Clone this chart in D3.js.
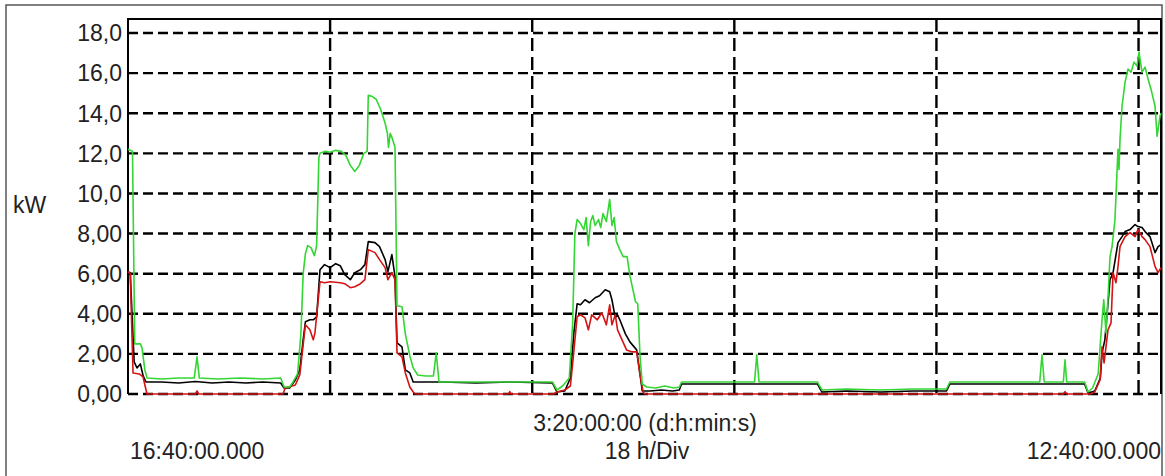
<!DOCTYPE html>
<html lang="en">
  <head>
    <title>kW trace</title>
    <script src="https://d3js.org/d3.v7.min.js"></script>
    <style>
      body {
        margin: 0;
        background: #fff;
        font-family: "Liberation Sans", Arial, sans-serif;
      }
      text {
        fill: #222;
        font-size: 23px;
      }
      .grid {
        stroke: #000;
        stroke-width: 2.4px;
      }
      .trace {
        fill: none;
        stroke-width: 1.6px;
        stroke-linejoin: round;
      }
    </style>
  </head>
  <body>
    <div id="chart"></div>
    <script>
      // time in hours from start, power in kW
      const yTicks = [0, 2, 4, 6, 8, 10, 12, 14, 16, 18];
      const yTickLabels = ["0,00", "2,00", "4,00", "6,00", "8,00", "10,0", "12,0", "14,0", "16,0", "18,0"];
      const xDivs = [18, 36, 54, 72, 90];
      const startLabel = "16:40:00.000";
      const endLabel = "12:40:00.000";
      const spanLabel = "3:20:00:00 (d:h:min:s)";
      const divLabel = "18 h/Div";
      const unitLabel = "kW";

      const greenSeries = [
        [0, 12.2], [0.4, 12.1], [0.6, 2.5], [1.1, 2.5], [1.25, 2.3], [1.5, 1.2], [1.7, 0.8],
        [3, 0.75], [4.5, 0.8], [5.9, 0.8], [6.15, 1.85], [6.35, 0.8], [8, 0.75], [10, 0.8],
        [12, 0.75], [13.6, 0.8], [13.9, 0.35], [14.4, 0.35], [14.7, 0.6], [15.1, 1.0],
        [15.4, 3.0], [15.6, 6.0], [15.8, 7.0], [16.0, 7.4], [16.3, 7.3], [16.6, 6.9],
        [16.8, 7.4], [17.0, 11.8], [17.1, 12.0], [17.6, 12.1], [18.0, 12.05], [18.5, 12.15],
        [19.0, 12.1], [19.4, 11.9], [19.8, 11.4], [20.2, 11.1], [20.6, 11.4], [21.0, 12.0],
        [21.3, 12.1], [21.4, 14.9], [21.7, 14.85], [22.1, 14.7], [22.5, 14.2], [22.9, 13.5],
        [23.1, 13.0], [23.2, 12.3], [23.35, 13.0], [23.5, 12.8], [23.78, 12.3], [23.96, 4.4],
        [24.4, 4.35], [24.7, 3.0], [25.1, 1.9], [25.4, 1.3], [25.8, 0.95], [26.5, 0.9],
        [27.2, 0.9], [27.45, 2.05], [27.7, 0.6], [28, 0.6], [32, 0.6], [36, 0.6], [37.8, 0.6],
        [38.2, 0.2], [38.7, 0.4], [39.3, 0.8], [39.6, 3.5], [39.8, 8.0], [40.0, 8.7],
        [40.3, 8.5], [40.6, 8.2], [40.8, 8.8], [41.0, 7.4], [41.2, 8.6], [41.4, 8.9],
        [41.6, 8.4], [41.9, 8.7], [42.1, 8.3], [42.3, 9.0], [42.6, 8.6], [42.9, 9.7],
        [43.1, 8.4], [43.3, 8.8], [43.5, 7.6], [43.8, 7.2], [44.1, 6.85], [44.45, 6.85],
        [44.7, 5.9], [45.2, 4.6], [45.4, 4.5], [45.6, 1.9], [45.8, 0.5], [46.2, 0.35],
        [47, 0.3], [47.8, 0.4], [48.6, 0.3], [49.1, 0.35], [49.3, 0.6], [52, 0.6], [55.8, 0.6],
        [56.0, 1.95], [56.2, 0.6], [59, 0.6], [61.4, 0.6], [61.8, 0.2], [64, 0.25], [67, 0.2],
        [70, 0.25], [72.9, 0.25], [73.2, 0.6], [77, 0.6], [81.2, 0.6], [81.4, 1.95],
        [81.6, 0.6], [83.3, 0.6], [83.45, 1.7], [83.6, 0.6], [85.2, 0.6], [85.5, 0.1],
        [85.9, 0.3], [86.4, 1.0], [86.75, 3.7], [86.9, 4.7], [87.1, 3.05], [87.3, 5.0],
        [87.46, 6.85], [87.64, 7.35], [87.9, 8.7], [88.08, 11.05], [88.17, 12.2],
        [88.26, 11.2], [88.35, 12.7], [88.53, 14.35], [88.8, 15.55], [89.06, 16.2],
        [89.33, 16.05], [89.6, 16.55], [89.86, 16.35], [90.04, 17.05], [90.31, 16.05],
        [90.58, 16.3], [90.85, 15.7], [91.11, 15.2], [91.47, 14.35], [91.65, 12.85],
        [91.91, 13.85], [92, 14.0]
      ];

      const blackSeries = [
        [0, 6.1], [0.2, 6.05], [0.55, 1.6], [0.8, 1.3], [1.1, 1.5], [1.35, 0.9], [1.6, 0.6],
        [3, 0.6], [4.5, 0.55], [6, 0.62], [7.5, 0.55], [9, 0.6], [10.5, 0.55], [12, 0.6],
        [13.6, 0.55], [13.9, 0.3], [14.4, 0.3], [14.9, 0.7], [15.3, 1.2], [15.6, 2.7],
        [15.8, 3.6], [16.2, 3.7], [16.5, 3.7], [16.8, 3.85], [17.1, 6.2], [17.5, 6.45],
        [18.0, 6.3], [18.5, 6.5], [18.9, 6.4], [19.3, 5.95], [19.8, 5.7], [20.2, 6.05],
        [20.7, 6.2], [21.1, 6.45], [21.4, 7.6], [22.0, 7.55], [22.4, 7.35], [22.9, 6.7],
        [23.15, 6.1], [23.5, 6.95], [23.78, 5.85], [23.96, 2.55], [24.4, 2.35], [24.7, 1.2],
        [25.1, 1.05], [25.4, 0.6], [28, 0.6], [31, 0.55], [34, 0.6], [37.8, 0.55],
        [38.2, 0.1], [38.9, 0.15], [39.4, 0.8], [39.7, 3.0], [40.0, 4.5], [40.3, 4.45],
        [40.7, 4.7], [41.1, 4.55], [41.6, 4.8], [42.0, 4.9], [42.5, 5.2], [42.9, 5.1],
        [43.1, 4.7], [43.4, 3.8], [43.6, 3.95], [43.8, 3.7], [44.3, 3.0], [44.7, 2.6],
        [45.3, 2.2], [45.6, 1.0], [45.8, 0.15], [46.5, 0.15], [47.5, 0.2], [48.5, 0.15],
        [49.1, 0.2], [49.3, 0.5], [52, 0.5], [56, 0.5], [61.4, 0.5], [61.8, 0.1], [64, 0.15],
        [67, 0.1], [70, 0.15], [72.9, 0.15], [73.2, 0.5], [78, 0.5], [85.2, 0.5], [85.5, 0.05],
        [86.1, 0.15], [86.6, 0.8], [86.75, 2.05], [87.0, 2.7], [87.46, 5.7], [87.73, 6.05],
        [88.17, 7.55], [88.53, 7.85], [88.8, 8.1], [89.24, 8.2], [89.69, 8.45], [89.95, 8.35],
        [90.31, 8.3], [90.58, 8.1], [91.02, 7.85], [91.47, 7.05], [91.74, 7.35], [92, 7.45]
      ];

      const redSeries = [
        [0, 6.1], [0.2, 6.0], [0.45, 1.05], [1.0, 1.0], [1.34, 0.85], [1.69, 0], [6.0, 0],
        [6.15, 0.15], [6.3, 0], [13.8, 0], [14.0, 0.3], [14.9, 0.45], [15.3, 0.95],
        [15.6, 2.45], [15.8, 3.45], [16.2, 3.2], [16.5, 2.7], [16.65, 3.05], [16.83, 4.05],
        [17.1, 5.6], [17.5, 5.55], [18.0, 5.6], [18.9, 5.55], [19.3, 5.5], [19.8, 5.3],
        [20.2, 5.35], [20.7, 5.5], [21.1, 5.7], [21.4, 7.2], [22.0, 7.05], [22.4, 6.7],
        [22.9, 6.3], [23.15, 5.7], [23.5, 6.05], [23.78, 5.7], [23.96, 2.05], [24.4, 1.85],
        [24.7, 1.05], [25.1, 0.35], [25.4, 0.1], [25.6, 0], [33.9, 0], [34.0, 0.12], [34.1, 0],
        [37.9, 0], [38.2, 0.1], [38.9, 0.2], [39.4, 0.4], [39.6, 1.5], [40.0, 3.85],
        [40.3, 3.95], [40.7, 3.8], [41.0, 3.2], [41.3, 3.95], [41.8, 3.7], [42.2, 4.05],
        [42.6, 3.45], [42.9, 4.45], [43.1, 3.45], [43.4, 3.95], [43.6, 3.2], [44.0, 2.7],
        [44.4, 2.2], [44.9, 2.1], [45.3, 2.1], [45.6, 0.95], [45.9, 0.05], [46.1, 0],
        [83.3, 0], [83.45, 0.12], [83.6, 0], [85.7, 0], [86.1, 0.1], [86.57, 0.7],
        [86.75, 2.35], [86.93, 1.55], [87.28, 3.2], [87.55, 3.55], [87.73, 6.05],
        [87.99, 5.55], [88.17, 6.35], [88.35, 7.35], [88.8, 7.85], [89.24, 8.05],
        [89.69, 7.85], [89.95, 8.2], [90.31, 7.85], [90.58, 7.7], [91.02, 7.35],
        [91.47, 6.35], [91.74, 6.05], [92, 6.3]
      ];

      const width = 1165;
      const height = 476;
      const plotLeft = 128, plotRight = 1161, plotTop = 19, plotBottom = 394;

      const svg = d3
        .select("#chart")
        .append("svg")
        .attr("width", width)
        .attr("height", height);

      const x = d3.scaleLinear().domain([0, 92]).range([plotLeft, plotRight]);
      const y = d3.scaleLinear().domain([0, 18.7]).range([plotBottom, plotTop]);

      // outer frame
      svg.append("rect")
        .attr("x", 6).attr("y", 5)
        .attr("width", 1156).attr("height", 480)
        .attr("fill", "none")
        .attr("stroke", "#555")
        .attr("stroke-width", 1.5);

      // horizontal dashed grid
      svg.append("g")
        .selectAll("line")
        .data(yTicks)
        .join("line")
        .attr("class", "grid")
        .attr("x1", plotLeft).attr("x2", plotRight)
        .attr("y1", (d) => y(d)).attr("y2", (d) => y(d))
        .attr("stroke-dasharray", "10,5");

      // vertical dashed grid
      svg.append("g")
        .selectAll("line")
        .data(xDivs)
        .join("line")
        .attr("class", "grid")
        .attr("x1", (d) => x(d)).attr("x2", (d) => x(d))
        .attr("y1", plotTop).attr("y2", plotBottom)
        .attr("stroke-dasharray", "13,6");

      // plot border (top, left, right)
      svg.append("path")
        .attr("d", `M${plotLeft},${plotBottom} V${plotTop} H${plotRight} V${plotBottom}`)
        .attr("fill", "none")
        .attr("stroke", "#000")
        .attr("stroke-width", 2);

      const line = d3.line().x((d) => x(d[0])).y((d) => y(d[1]));

      const traces = [
        { data: blackSeries, color: "#000" },
        { data: redSeries, color: "#d41414" },
        { data: greenSeries, color: "#33d633" },
      ];
      traces.forEach((t) => {
        svg.append("path")
          .datum(t.data)
          .attr("class", "trace")
          .attr("stroke", t.color)
          .attr("d", line);
      });

      // y tick labels
      svg.append("g")
        .selectAll("text")
        .data(yTicks)
        .join("text")
        .attr("x", plotLeft - 6)
        .attr("y", (d) => y(d))
        .attr("dy", "0.36em")
        .attr("text-anchor", "end")
        .text((d, i) => yTickLabels[i]);

      svg.append("text").attr("x", 13).attr("y", 213).text(unitLabel);

      svg.append("text").attr("x", 645).attr("y", 431)
        .attr("text-anchor", "middle").text(spanLabel);
      svg.append("text").attr("x", 647).attr("y", 459)
        .attr("text-anchor", "middle").text(divLabel);
      svg.append("text").attr("x", 130).attr("y", 459).text(startLabel);
      svg.append("text").attr("x", 1161).attr("y", 459)
        .attr("text-anchor", "end").text(endLabel);
    </script>
  </body>
</html>
